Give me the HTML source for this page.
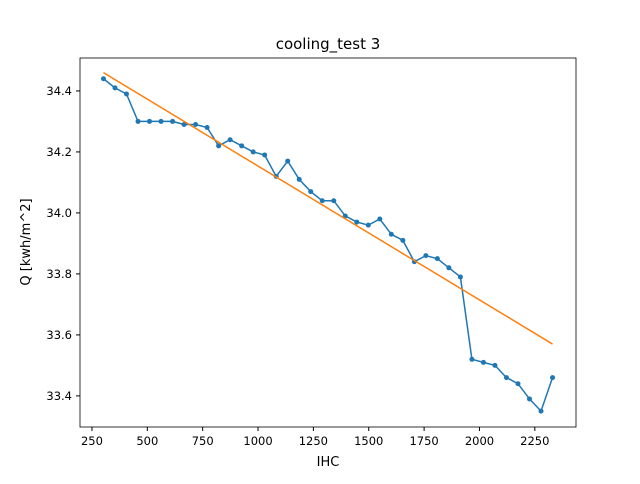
<!DOCTYPE html>
<html><head><meta charset="utf-8"><style>
body{margin:0;background:#fff;font-family:"DejaVu Sans","Liberation Sans",sans-serif}
</style></head><body>
<svg id="c" width="640" height="480" xmlns="http://www.w3.org/2000/svg">
<rect width="640" height="480" fill="#fff"/>
<text x="328" y="49" font-size="15" text-anchor="middle">cooling_test 3</text>
<text x="328" y="466" font-size="13" text-anchor="middle">IHC</text>
<text x="30" y="242" font-size="13" text-anchor="middle" transform="rotate(-90 30 242)">Q [kwh/m^2]</text>
<g id="ax"></g>
</svg>
<script>
const xVals=[];for(let i=0;i<40;i++)xVals.push(302+52*i);
const yVals=[34.44,34.41,34.39,34.30,34.30,34.30,34.30,34.29,34.29,34.28,34.22,34.24,34.22,34.20,34.19,34.12,34.17,34.11,34.07,34.04,34.04,33.99,33.97,33.96,33.98,33.93,33.91,33.84,33.86,33.85,33.82,33.79,33.52,33.51,33.50,33.46,33.44,33.39,33.35,33.46];
const fitX=[302,2330];
const fitY=[34.46,33.57];
const xTicks=[250,500,750,1000,1250,1500,1750,2000,2250];
const yTicks=[33.4,33.6,33.8,34.0,34.2,34.4];
const L=80,R=576,T=58,B=427;
const xmin=196,xmax=2436,ymin=33.298,ymax=34.508;
const sx=v=>L+(v-xmin)/(xmax-xmin)*(R-L);
const sy=v=>B-(v-ymin)/(ymax-ymin)*(B-T);
const NS="http://www.w3.org/2000/svg";
const g=document.getElementById('ax');
function mk(t,a){const e=document.createElementNS(NS,t);for(const k in a)e.setAttribute(k,a[k]);g.appendChild(e);return e;}
xTicks.forEach(t=>{
 const l=mk('line',{x1:sx(t),x2:sx(t),y1:B,y2:B+4,stroke:'#000'});
 
 
 const tx=mk('text',{x:sx(t),y:B+18,'font-size':11.5,'text-anchor':'middle'});tx.textContent=t;
 
 
});
yTicks.forEach(t=>{
 const l=mk('line',{x1:L-4,x2:L,y1:sy(t),y2:sy(t),stroke:'#000'});
 
 
 const tx=mk('text',{x:L-8,y:sy(t)+4,'font-size':11.5,'text-anchor':'end'});tx.textContent=t.toFixed(1);
 
 
});
const pts=xVals.map((x,i)=>sx(x)+','+sy(yVals[i])).join(' ');
const pl=mk('polyline',{points:pts,fill:'none',stroke:'#1f77b4','stroke-width':1.5});


xVals.forEach((x,i)=>{
 const c=mk('circle',{cx:sx(x),cy:sy(yVals[i]),r:2.5,fill:'#1f77b4'});
 
 
});
const fl=mk('line',{x1:sx(fitX[0]),y1:sy(fitY[0]),x2:sx(fitX[1]),y2:sy(fitY[1]),stroke:'#ff7f0e','stroke-width':1.5});


const fr=mk('rect',{x:L,y:T,width:R-L,height:B-T,fill:'none',stroke:'#000','stroke-width':0.8});


</script>
</body></html>
